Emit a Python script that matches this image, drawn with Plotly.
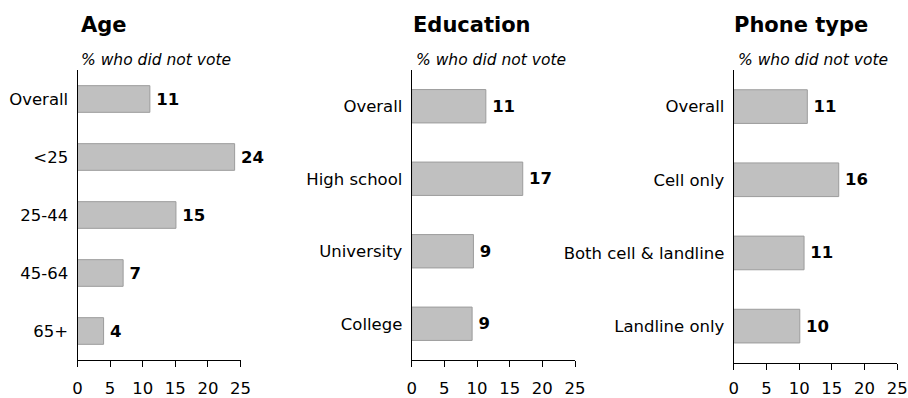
import plotly.graph_objects as go

# ---- data ----
age_cats = ["Overall", "<25", "25-44", "45-64", "65+"]
age_vals = [11.1, 24.1, 15.1, 7.0, 4.0]

edu_cats = ["Overall", "High school", "University", "College"]
edu_vals = [11.35, 17.0, 9.45, 9.25]

phone_cats = ["Overall", "Cell only", "Both cell & landline", "Landline only"]
phone_vals = [11.25, 16.05, 10.75, 10.1]

panel_titles = ["Age", "Education", "Phone type"]
subtitle = "% who did not vote"
x_ticks = [0, 5, 10, 15, 20, 25]

W, H = 908, 398
FONT = "DejaVu Sans"

def px_x(p):
    return p / W

def px_y(p):
    return 1 - p / H

# pixel layout of each panel: (left, right, top, bottom)
panels = [
    (77.5, 240.5, 70, 360),
    (411.7, 575.0, 70, 360),
    (733.7, 897.3, 70, 362.7),
]
x_standoff = [7, 7, 4]
title_x = [79, 411, 731.7]
sub_x = [79, 414, 735.7]

data = [(age_cats, age_vals), (edu_cats, edu_vals), (phone_cats, phone_vals)]

fig = go.Figure()
for i, ((cats, vals), (l, r, t, b)) in enumerate(zip(data, panels)):
    xa = "x" if i == 0 else f"x{i+1}"
    ya = "y" if i == 0 else f"y{i+1}"
    fig.add_trace(go.Bar(
        x=vals, y=cats, orientation="h",
        xaxis=xa, yaxis=ya,
        marker=dict(color="#c0c0c0", line=dict(color="#9c9c9c", width=1)),
        texttemplate="\u2009%{x:.0f}", textposition="outside",
        textfont=dict(family=FONT, size=16.5, color="#000000", weight="bold"),
        cliponaxis=False, showlegend=False, hoverinfo="skip",
    ))
    xkey = "xaxis" if i == 0 else f"xaxis{i+1}"
    ykey = "yaxis" if i == 0 else f"yaxis{i+1}"
    fig.update_layout({
        xkey: dict(
            domain=[px_x(l), px_x(r)], anchor=ya, range=[0, 25],
            tickvals=x_ticks, showgrid=False, zeroline=False,
            showline=True, linecolor="#000000", linewidth=1,
            ticks="outside", ticklen=6, tickcolor="#000000",
            tickfont=dict(family=FONT, size=16.5, color="#000000"),
            ticklabelstandoff=x_standoff[i], fixedrange=True, automargin=False,
        ),
        ykey: dict(
            domain=[px_y(b), px_y(t)], anchor=xa,
            categoryorder="array", categoryarray=cats[::-1],
            showgrid=False, zeroline=False,
            showline=True, linecolor="#000000", linewidth=1,
            ticks="", tickfont=dict(family=FONT, size=16.5, color="#000000"),
            ticklabelstandoff=5, fixedrange=True, automargin=False,
        ),
    })
    fig.add_annotation(
        text=f"<b>{panel_titles[i]}</b>", xref="paper", yref="paper",
        x=px_x(title_x[i]), y=px_y(25), xanchor="left", yanchor="middle",
        showarrow=False, font=dict(family=FONT, size=21, color="#000000"),
    )
    fig.add_annotation(
        text=f"<i>{subtitle}</i>", xref="paper", yref="paper",
        x=px_x(sub_x[i]), y=px_y(60), xanchor="left", yanchor="middle",
        showarrow=False, font=dict(family=FONT, size=15.5, color="#000000"),
    )

fig.update_layout(
    width=W, height=H, margin=dict(l=0, r=0, t=0, b=0),
    paper_bgcolor="#ffffff", plot_bgcolor="#ffffff",
    bargap=0.54,
)

fig.write_html("out.html")
